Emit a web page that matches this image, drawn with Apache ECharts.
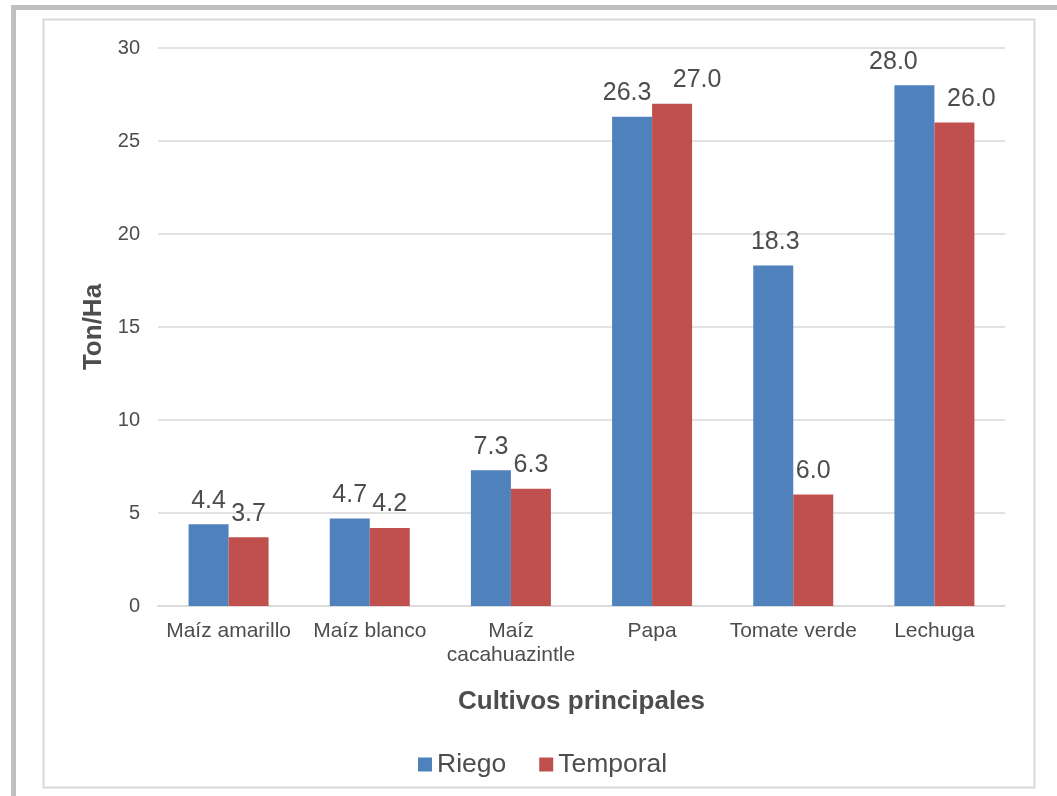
<!DOCTYPE html>
<html><head><meta charset="utf-8">
<script src="https://cdn.jsdelivr.net/npm/echarts@6/dist/echarts.min.js"></script>
<style>html,body{margin:0;padding:0;background:#fff}#c{width:1057px;height:796px}</style>
</head><body><div id="c"></div>
<script>
const categories = ['Maíz amarillo', 'Maíz blanco', 'Maíz\ncacahuazintle', 'Papa', 'Tomate verde', 'Lechuga'];
const riego = [4.4, 4.7, 7.3, 26.3, 18.3, 28.0];
const temporal = [3.7, 4.2, 6.3, 27.0, 6.0, 26.0];
const seriesNames = ['Riego', 'Temporal'];
const yTicks = {min: 0, max: 30, interval: 5};
// horizontal nudges of data labels (px), as in the source chart
const riegoLabelShift = [0, 0, 0, -5, 2, -21];
const temporalLabelShift = [0, 0, 0, 25, 0, 17];

const font = 'Liberation Sans, Arial, sans-serif';
const txt = '#4d4d4d';
const chart = echarts.init(document.getElementById('c'));
const lbl = {show: true, position: 'top', distance: 11, fontSize: 25, color: txt, fontFamily: font,
  formatter: p => p.value.toFixed(1)};
const withShift = (vals, shifts) => vals.map((v, i) => ({value: v, label: {offset: [shifts[i], 0]}}));
chart.setOption({
  animation: false,
  backgroundColor: '#fff',
  graphic: [
    {type: 'rect', shape: {x: 13.5, y: 7.5, width: 1100, height: 800}, style: {fill: 'none', stroke: '#bfbfbf', lineWidth: 5}, silent: true},
    {type: 'rect', shape: {x: 43.5, y: 19.5, width: 991, height: 768}, style: {fill: 'none', stroke: '#d9d9d9', lineWidth: 2}, silent: true}
  ],
  grid: {left: 158, right: 52, top: 48, bottom: 190},
  legend: {
    top: 746, left: 413, itemWidth: 14, itemHeight: 14, itemGap: 33,
    icon: 'rect',
    textStyle: {fontSize: 26.5, color: txt, fontFamily: font},
    data: seriesNames
  },
  xAxis: {
    type: 'category', data: categories,
    name: 'Cultivos principales', nameLocation: 'middle', nameGap: 83,
    nameTextStyle: {fontSize: 26, fontWeight: 'bold', color: txt, fontFamily: font},
    axisLine: {lineStyle: {color: '#d9d9d9', width: 1.5}},
    axisTick: {show: false},
    axisLabel: {fontSize: 21, color: txt, fontFamily: font, lineHeight: 24, margin: 13, interval: 0}
  },
  yAxis: {
    type: 'value', min: yTicks.min, max: yTicks.max, interval: yTicks.interval,
    name: 'Ton/Ha', nameLocation: 'middle', nameGap: 51,
    nameTextStyle: {fontSize: 26, fontWeight: 'bold', color: txt, fontFamily: font},
    axisLine: {show: false}, axisTick: {show: false},
    axisLabel: {fontSize: 20, color: txt, fontFamily: font, margin: 18},
    splitLine: {lineStyle: {color: '#d9d9d9', width: 1.5}}
  },
  series: [
    {name: seriesNames[0], type: 'bar', data: withShift(riego, riegoLabelShift), barWidth: 40, barGap: '0%', itemStyle: {color: '#4F81BD'}, label: lbl},
    {name: seriesNames[1], type: 'bar', data: withShift(temporal, temporalLabelShift), barWidth: 40, barGap: '0%', itemStyle: {color: '#C0504D'}, label: lbl}
  ]
});
</script></body></html>
